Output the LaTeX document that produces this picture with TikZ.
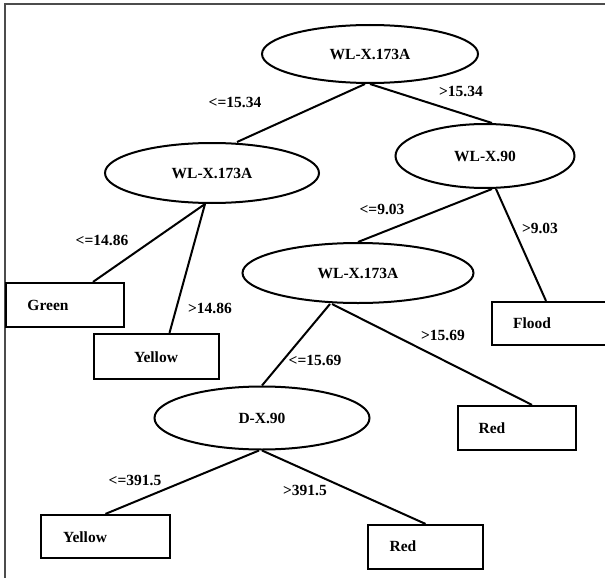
\documentclass[tikz,border=0pt]{standalone}
\usepackage{fontspec}
\setmainfont{Liberation Serif}
\usetikzlibrary{shapes.geometric}
\begin{document}
\begin{tikzpicture}[x=1pt,y=-1pt,
  every node/.style={font=\fontsize{15.5}{18}\selectfont\bfseries},
  split/.style={ellipse,draw,line width=2pt,inner sep=0pt},
  leaf/.style={rectangle,draw,line width=2.2pt,inner sep=0pt},
  tag/.style={inner sep=0pt},
  branch/.style={line width=2pt}]
\useasboundingbox (0,0) rectangle (605,578);
% frame
\draw[line width=2pt,black!70] (5,578) -- (5,4) -- (605,4);

% decision nodes
\node[split,minimum width=216,minimum height=58] (root) at (370,54) {WL-X.173A};
\node[split,minimum width=214,minimum height=60] (wla) at (212,173) {WL-X.173A};
\node[split,minimum width=179,minimum height=64] (wlb) at (485,156) {WL-X.90};
\node[split,minimum width=231,minimum height=60] (wlc) at (358,273) {WL-X.173A};
\node[split,minimum width=215,minimum height=63] (dx) at (262,418) {D-X.90};

% leaves
\node[leaf,minimum width=118,minimum height=44] (green) at (65,305) {};
\node[tag] (greent) at (48,305) {Green};
\node[leaf,minimum width=125,minimum height=45] (yellowa) at (156.5,356.5) {};
\node[tag] (yellowat) at (156,357) {Yellow};
\node[leaf,minimum width=118,minimum height=43] (flood) at (551,323.5) {};
\node[tag] (floodt) at (532,323) {Flood};
\node[leaf,minimum width=118,minimum height=44] (reda) at (517,428) {};
\node[tag] (redat) at (492,428) {Red};
\node[leaf,minimum width=129,minimum height=43] (yellowb) at (105.5,536.5) {};
\node[tag] (yellowbt) at (85,537) {Yellow};
\node[leaf,minimum width=115,minimum height=44] (redb) at (425.5,547) {};
\node[tag] (redbt) at (403,546) {Red};

% branches
\draw[branch] ([xshift=-5]root.south) -- ([xshift=25]wla.north);
\draw[branch] (root.south) -- ([xshift=7]wlb.north);
\draw[branch] ([xshift=-7]wla.south) -- ([xshift=28]green.north);
\draw[branch] ([xshift=-7]wla.south) -- ([xshift=13]yellowa.north);
\draw[branch] ([xshift=7]wlb.south) -- (wlc.north);
\draw[branch] ([xshift=11]wlb.south) -- ([xshift=-5]flood.north);
\draw[branch] ([xshift=-28]wlc.south) -- (dx.north);
\draw[branch] ([xshift=-26]wlc.south) -- ([xshift=15]reda.north);
\draw[branch] ([xshift=-3]dx.south) -- (yellowb.north);
\draw[branch] (dx.south) -- (redb.north);

% branch conditions
\node[tag] (c1) at (235,102) {<=15.34};
\node[tag] (c2) at (461,91) {>15.34};
\node[tag] (c3) at (102,240) {<=14.86};
\node[tag] (c4) at (210,308) {>14.86};
\node[tag] (c5) at (382,209) {<=9.03};
\node[tag] (c6) at (540,228) {>9.03};
\node[tag] (c7) at (443,335) {>15.69};
\node[tag] (c8) at (315,360) {<=15.69};
\node[tag] (c9) at (135,480) {<=391.5};
\node[tag] (c10) at (305,490) {>391.5};
\end{tikzpicture}
\end{document}
